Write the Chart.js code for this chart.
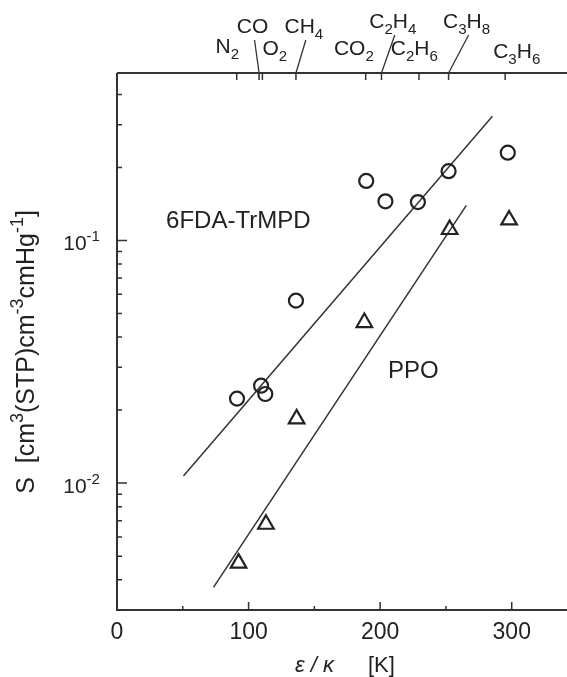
<!DOCTYPE html>
<html>
<head>
<meta charset="utf-8">
<script src="https://cdn.jsdelivr.net/npm/chart.js@4"></script>
<style>
  html, body { margin: 0; padding: 0; background: #fff; overflow: hidden; }
  #wrap { width: 567px; height: 677px; }
  canvas { display: block; }
</style>
</head>
<body>
<div id="wrap"><canvas id="chart" width="567" height="677"></canvas></div>
<script>
// 6FDA-TrMPD (circles)
const trX = [91.2, 109.5, 112.7, 136, 189.4, 204, 228.7, 252, 297];
const trS = [0.0223, 0.0252, 0.0233, 0.0565, 0.176, 0.145, 0.144, 0.193, 0.230];
// PPO (triangles)
const ppoX = [92.4, 113.2, 136.5, 188, 252.8, 298];
const ppoS = [0.00468, 0.00677, 0.0184, 0.0459, 0.111, 0.1215];
// fitted lines, end points
const fitTrX = [50.5, 285.3];
const fitTrS = [0.0107, 0.325];
const fitPpoX = [73.3, 265.5];
const fitPpoS = [0.00372, 0.1395];

// top axis: gases at their eps/k
const gases = ["N2", "CO", "O2", "CH4", "CO2", "C2H4", "C2H6", "C3H8", "C3H6"];
const gasTick = [91, 108, 110.5, 136, 189, 201, 229.5, 252, 295];
const gasLabelX = [83.8, 103, 120, 142, 180, 209.6, 226, 265.7, 303.8];
const gasLabelRise = [20, 40, 18, 40, 18, 45, 18, 45, 15]; // px above top axis (baseline)
const gasLeader = [false, true, false, true, false, true, false, true, false];

const xTicks = [0, 100, 200, 300];
const xMinor = [50, 150, 250];
const yTicks = [0.01, 0.1];
const yTickExp = ["-2", "-1"];

const FONT = '"Liberation Sans", Arial, Helvetica, sans-serif';
const INK = "#222";

function pts(xs, ys) {
    return xs.map((x, i) => ({ x, y: ys[i] }));
}

// draw text where digits are sub- or superscripts
function drawRich(ctx, parts, x, y, size, align) {
    let w = 0;
    parts.forEach(p => {
        ctx.font = (p.s ? size * 0.72 : size) + "px " + FONT;
        w += ctx.measureText(p.t).width;
    });
    let cx = align === "center" ? x - w / 2 : align === "right" ? x - w : x;
    ctx.textAlign = "left";
    ctx.textBaseline = "alphabetic";
    parts.forEach(p => {
        ctx.font = (p.s ? size * 0.72 : size) + "px " + FONT;
        const dy = p.s === "sub" ? size * 0.3 : p.s === "sup" ? -size * 0.45 : 0;
        ctx.fillText(p.t, cx, y + dy);
        cx += ctx.measureText(p.t).width;
    });
    return w;
}

function chemParts(name) {
    return name.match(/[A-Z][a-z]?|\d+/g).map(t => /\d/.test(t) ? { t, s: "sub" } : { t });
}

const decor = {
    id: "decor",
    afterDraw(chart) {
        const { ctx, chartArea: a, scales: { x, y } } = chart;
        ctx.save();
        ctx.strokeStyle = "#333";
        ctx.fillStyle = INK;
        ctx.lineWidth = 2;

        // frame: left, bottom, top (no right axis, runs off the edge)
        ctx.beginPath();
        ctx.moveTo(a.left, a.top);
        ctx.lineTo(a.left, a.bottom);
        ctx.lineTo(a.right, a.bottom);
        ctx.moveTo(a.left, a.top);
        ctx.lineTo(a.right, a.top);
        ctx.stroke();

        ctx.lineWidth = 1.5;
        ctx.beginPath();
        // bottom ticks (inward)
        xTicks.forEach(v => { const px = x.getPixelForValue(v); ctx.moveTo(px, a.bottom); ctx.lineTo(px, a.bottom - 8); });
        xMinor.forEach(v => { const px = x.getPixelForValue(v); ctx.moveTo(px, a.bottom); ctx.lineTo(px, a.bottom - 4); });
        // left ticks, log
        for (let dec = 0.001; dec < 1; dec *= 10) {
            for (let m = 1; m < 10; m++) {
                const v = dec * m;
                if (v < y.min || v > y.max) continue;
                const py = y.getPixelForValue(v);
                ctx.moveTo(a.left, py);
                ctx.lineTo(a.left + (m === 1 ? 10 : 5), py);
            }
        }
        // top ticks at gases
        gasTick.forEach(v => { const px = x.getPixelForValue(v); ctx.moveTo(px, a.top); ctx.lineTo(px, a.top + 7); });
        ctx.stroke();

        // gas labels
        ctx.lineWidth = 1.3;
        gases.forEach((g, i) => {
            const cx = x.getPixelForValue(gasLabelX[i]);
            const base = a.top - gasLabelRise[i];
            drawRich(ctx, chemParts(g), cx, base, 21, "center");
            if (gasLeader[i]) {
                ctx.beginPath();
                ctx.moveTo(cx + 2, base + 7);
                ctx.lineTo(x.getPixelForValue(gasTick[i]), a.top);
                ctx.stroke();
            }
        });

        // x tick labels
        ctx.font = "23px " + FONT;
        ctx.textAlign = "center";
        ctx.textBaseline = "middle";
        xTicks.forEach(v => ctx.fillText(String(v), x.getPixelForValue(v), a.bottom + 23));

        // y tick labels 10^n
        yTicks.forEach((v, i) => {
            const py = y.getPixelForValue(v);
            drawRich(ctx, [{ t: "10" }, { t: yTickExp[i], s: "sup" }], a.left - 17, py + 10, 21, "right");
        });

        // x title
        ctx.font = "italic 22px " + FONT;
        ctx.textAlign = "left";
        ctx.textBaseline = "alphabetic";
        ctx.fillText("\u03b5 / \u03ba", 295, a.bottom + 62);
        ctx.font = "22px " + FONT;
        ctx.fillText("[K]", 368, a.bottom + 62);

        // y title, rotated
        ctx.save();
        ctx.translate(34, 352);
        ctx.rotate(-Math.PI / 2);
        drawRich(ctx, [
            { t: "S  [cm" }, { t: "3", s: "sup" }, { t: "(STP)cm" }, { t: "-3", s: "sup" },
            { t: "cmHg" }, { t: "-1", s: "sup" }, { t: "]" }
        ], 0, 0, 25, "center");
        ctx.restore();

        // series names
        ctx.font = "24px " + FONT;
        ctx.textAlign = "left";
        ctx.fillText("6FDA-TrMPD", x.getPixelForValue(37.3), y.getPixelForValue(0.113));
        ctx.fillText("PPO", x.getPixelForValue(206), y.getPixelForValue(0.0272));
        ctx.restore();
    }
};

new Chart(document.getElementById("chart"), {
    type: "scatter",
    data: {
        datasets: [
            {
                label: "6FDA-TrMPD",
                data: pts(trX, trS),
                pointStyle: "circle",
                pointRadius: 7,
                borderColor: INK,
                backgroundColor: "rgba(255,255,255,0)",
                borderWidth: 2.2
            },
            {
                label: "PPO",
                data: pts(ppoX, ppoS),
                pointStyle: "triangle",
                pointRadius: 9,
                borderColor: INK,
                backgroundColor: "rgba(255,255,255,0)",
                borderWidth: 2.2
            },
            {
                label: "fit 6FDA-TrMPD",
                data: pts(fitTrX, fitTrS),
                showLine: true,
                pointRadius: 0,
                borderColor: "#333",
                borderWidth: 1.5
            },
            {
                label: "fit PPO",
                data: pts(fitPpoX, fitPpoS),
                showLine: true,
                pointRadius: 0,
                borderColor: "#333",
                borderWidth: 1.5
            }
        ]
    },
    options: {
        responsive: false,
        animation: false,
        devicePixelRatio: 1,
        // no auto padding, the plot runs to the right edge
        layout: { autoPadding: false, padding: { left: 117, top: 73, right: 0, bottom: 67 } },
        plugins: { legend: { display: false }, tooltip: { enabled: false } },
        scales: {
            x: { type: "linear", min: 0, max: 342, display: false },
            y: { type: "logarithmic", min: 0.003, max: 0.49, display: false }
        }
    },
    plugins: [decor]
});
</script>
</body>
</html>
